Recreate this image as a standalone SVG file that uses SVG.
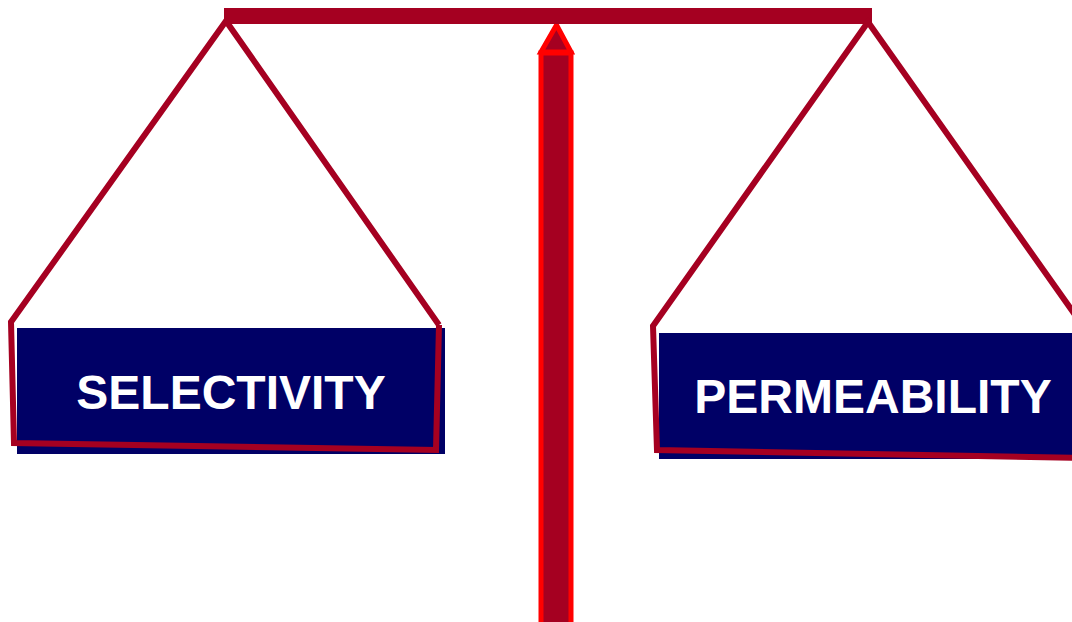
<svg xmlns="http://www.w3.org/2000/svg" width="1072" height="622" viewBox="0 0 1072 622">
<style>
.rope{fill:none;stroke:#A50021;stroke-width:6;stroke-linejoin:miter}
.box{fill:#000066}
.lbl{font-family:"Liberation Sans",Arial,sans-serif;font-weight:bold;font-size:48px;fill:#fff;text-anchor:middle}
</style>
<rect width="1072" height="622" fill="#fff"/>
<g id="post">
<rect x="541" y="53" width="30" height="580" fill="#A50021" stroke="#FF0000" stroke-width="5"/>
<polygon points="556.5,25 541,52 571,52" fill="#A50021" stroke="#FF0000" stroke-width="5" stroke-linejoin="miter"/>
</g>
<g id="beam">
<rect x="224" y="8" width="648" height="16" fill="#A50021"/>
</g>
<g id="left-pan">
<rect class="box" x="17" y="328" width="428" height="126"/>
<polyline class="rope" points="439,325 226,21 11,322 14,443 436,450 439,325"/>
<text class="lbl" x="231" y="409">SELECTIVITY</text>
</g>
<g id="right-pan">
<rect class="box" x="659" y="333" width="430" height="126"/>
<polyline class="rope" points="1083,326 868,22 653,326 657,450 1085,458 1083,326"/>
<text class="lbl" x="873" y="413">PERMEABILITY</text>
</g>
</svg>
